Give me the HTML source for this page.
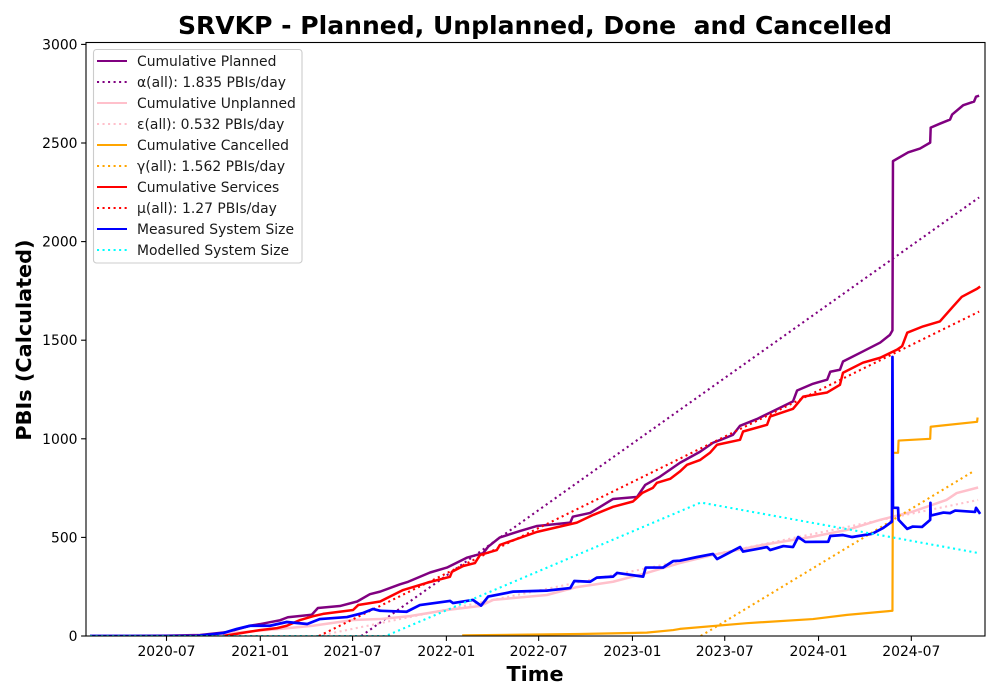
<!DOCTYPE html>
<html lang="en">
<head>
<meta charset="utf-8">
<title>SRVKP - Planned, Unplanned, Done and Cancelled</title>
<style>
html,body{margin:0;padding:0;background:#fff;}
svg{display:block;}
text{font-family:"DejaVu Sans","Liberation Sans",sans-serif;fill:#000;}
.tick{font-size:13.9px;}
.legend-text{font-size:13.9px;fill:#1a1a1a;}
</style>
</head>
<body>
<svg id="chart" width="1000" height="700" viewBox="0 0 1000 700" xmlns="http://www.w3.org/2000/svg">
  <rect width="1000" height="700" fill="#fff"/>
  <defs><clipPath id="plot-clip"><rect x="86" y="42.5" width="899" height="593.5"/></clipPath></defs>
  <text x="535" y="34" text-anchor="middle" style="font-size:25.05px;font-weight:bold;white-space:pre" xml:space="preserve">SRVKP - Planned, Unplanned, Done  and Cancelled</text>
  <text x="535" y="681" text-anchor="middle" style="font-size:20.8px;font-weight:bold">Time</text>
  <text transform="translate(31,340) rotate(-90)" text-anchor="middle" style="font-size:20.8px;font-weight:bold">PBIs (Calculated)</text>
  <g id="series-layer" clip-path="url(#plot-clip)"></g>
  <g id="axis-layer"></g>
  <rect x="86" y="42.5" width="899" height="593.5" fill="none" stroke="#000" stroke-width="1.1"/>
  <g>
    <rect x="93.5" y="49.5" width="208.5" height="213.5" rx="3" ry="3" fill="#fff" fill-opacity="0.8" stroke="#ccc" stroke-width="1.1"/>
    <g><line x1="97" x2="127" y1="61" y2="61" stroke="purple" stroke-width="2.08"/><text class="legend-text" x="137" y="66">Cumulative Planned</text></g>
    <g><line x1="97" x2="127" y1="82" y2="82" stroke="purple" stroke-width="2.08" stroke-dasharray="2.08 3.44"/><text class="legend-text" x="137" y="87">α(all): 1.835 PBIs/day</text></g>
    <g><line x1="97" x2="127" y1="103" y2="103" stroke="pink" stroke-width="2.08"/><text class="legend-text" x="137" y="108">Cumulative Unplanned</text></g>
    <g><line x1="97" x2="127" y1="124" y2="124" stroke="pink" stroke-width="2.08" stroke-dasharray="2.08 3.44"/><text class="legend-text" x="137" y="129">ε(all): 0.532 PBIs/day</text></g>
    <g><line x1="97" x2="127" y1="145" y2="145" stroke="orange" stroke-width="2.08"/><text class="legend-text" x="137" y="150">Cumulative Cancelled</text></g>
    <g><line x1="97" x2="127" y1="166" y2="166" stroke="orange" stroke-width="2.08" stroke-dasharray="2.08 3.44"/><text class="legend-text" x="137" y="171">γ(all): 1.562 PBIs/day</text></g>
    <g><line x1="97" x2="127" y1="187" y2="187" stroke="red" stroke-width="2.08"/><text class="legend-text" x="137" y="192">Cumulative Services</text></g>
    <g><line x1="97" x2="127" y1="208" y2="208" stroke="red" stroke-width="2.08" stroke-dasharray="2.08 3.44"/><text class="legend-text" x="137" y="213">μ(all): 1.27 PBIs/day</text></g>
    <g><line x1="97" x2="127" y1="229" y2="229" stroke="blue" stroke-width="2.08"/><text class="legend-text" x="137" y="234">Measured System Size</text></g>
    <g><line x1="97" x2="127" y1="250" y2="250" stroke="cyan" stroke-width="2.08" stroke-dasharray="2.08 3.44"/><text class="legend-text" x="137" y="255">Modelled System Size</text></g>
  </g>
</svg>
<script>
// Tick labels
const xTickLabels = ['2020-07','2021-01','2021-07','2022-01','2022-07','2023-01','2023-07','2024-01','2024-07'];
const yTickValues = [0,500,1000,1500,2000,2500,3000];

// Series: days since 2020-07-01, and values in PBIs
const plannedDays = [-150,0,66,119,164,183,203,223,238,285,297,340,374,399,419,458,474,517,550,589,621,631,654,693,727,792,797,831,876,923,939,968,1007,1047,1072,1092,1111,1125,1158,1184,1229,1237,1268,1296,1302,1321,1327,1366,1400,1419,1424,1425,1455,1478,1498,1499,1517,1537,1541,1563,1584,1588,1594];
const plannedValues = [0,2,5,20,52,60,70,80,95,108,142,152,175,212,225,262,275,322,347,397,420,453,500,532,558,575,605,624,695,705,766,808,878,935,980,1000,1020,1066,1100,1133,1190,1245,1279,1300,1340,1350,1392,1443,1488,1527,1550,2408,2453,2472,2502,2578,2598,2619,2644,2692,2710,2735,2740];

const alphaDays = [382,1594];
const alphaValues = [0,2224];

const unplannedDays = [-150,60,138,223,287,366,419,477,550,615,641,746,805,876,942,1007,1072,1170,1268,1335,1400,1464,1530,1550,1592];
const unplannedValues = [0,1,17,36,52,81,86,101,132,152,183,208,248,275,320,370,411,462,504,538,589,631,690,725,753];

const epsilonDays = [297,1592];
const epsilonValues = [0,690];

const cancelledDays = [580,811,942,994,1007,1138,1268,1335,1424,1425,1435,1436,1498,1499,1524,1590,1591];
const cancelledValues = [3,10,17,30,36,65,86,107,128,929,929,991,1000,1061,1068,1086,1108];

const gammaDays = [1048,1582];
const gammaValues = [0,834];

const servicesDays = [111,164,183,217,236,262,287,307,366,376,419,464,511,556,560,582,605,615,648,654,727,805,837,876,915,933,954,962,988,1007,1021,1047,1066,1080,1125,1131,1178,1184,1229,1249,1296,1321,1327,1366,1400,1433,1443,1453,1484,1517,1543,1560,1590,1596];
const servicesValues = [0,22,30,40,52,81,100,112,132,157,175,233,270,300,326,355,370,411,436,462,528,575,614,655,682,725,751,777,797,834,868,893,929,970,995,1037,1071,1113,1152,1214,1235,1274,1335,1386,1411,1452,1470,1538,1570,1595,1671,1720,1761,1772];

const muDays = [299,1594];
const muValues = [0,1645];

const measuredDays = [-150,60,111,138,164,203,236,276,301,354,386,405,419,471,497,556,562,601,617,631,680,746,792,800,831,844,876,884,935,940,974,994,1007,1040,1072,1080,1125,1131,1178,1184,1210,1229,1239,1253,1298,1302,1327,1345,1384,1406,1423,1424,1425,1435,1436,1453,1464,1482,1498,1498.5,1499,1524,1537,1547,1586,1588,1596];
const measuredValues = [0,1,15,36,52,52,71,61,86,96,117,137,128,123,157,178,167,183,154,200,225,230,243,279,275,296,301,320,301,347,347,380,382,400,416,390,451,428,451,436,456,451,502,477,478,507,512,502,518,548,580,1415,650,650,589,543,555,553,589,675,611,626,623,636,629,650,619];

const modelledDays = [-150,430,1048,1594];
const modelledValues = [0,0,677,420];

// Axis functions
const svgNS = 'http://www.w3.org/2000/svg';
const dayZero = Date.UTC(2020, 6, 1);
function dayOf(label) {
  const parts = label.split('-');
  return (Date.UTC(+parts[0], +parts[1] - 1, 1) - dayZero) / 86400000;
}
function xScale(day) { return 166.5 + day * 0.5098; }
function yScale(value) { return 636 - value * 0.1972; }

const seriesLayer = document.getElementById('series-layer');
const axisLayer = document.getElementById('axis-layer');

function drawSeries(name, days, values, color, dotted, width) {
  const path = document.createElementNS(svgNS, 'path');
  const d = days.map(function (day, i) {
    return (i ? 'L' : 'M') + xScale(day).toFixed(2) + ' ' + yScale(values[i]).toFixed(2);
  }).join('');
  path.setAttribute('d', d);
  path.setAttribute('fill', 'none');
  path.setAttribute('stroke', color);
  path.setAttribute('stroke-width', width);
  path.setAttribute('stroke-linejoin', 'round');
  if (dotted) path.setAttribute('stroke-dasharray', '2.08 3.44');
  
  
  seriesLayer.appendChild(path);
}

drawSeries('cumulative-planned-line', plannedDays, plannedValues, 'purple', false, 2.5);
drawSeries('alpha-trend-line', alphaDays, alphaValues, 'purple', true, 2.08);
drawSeries('cumulative-unplanned-line', unplannedDays, unplannedValues, 'pink', false, 2.5);
drawSeries('epsilon-trend-line', epsilonDays, epsilonValues, 'pink', true, 2.08);
drawSeries('cumulative-cancelled-line', cancelledDays, cancelledValues, 'orange', false, 2.2);
drawSeries('gamma-trend-line', gammaDays, gammaValues, 'orange', true, 2.08);
drawSeries('cumulative-services-line', servicesDays, servicesValues, 'red', false, 2.5);
drawSeries('mu-trend-line', muDays, muValues, 'red', true, 2.08);
drawSeries('measured-system-size-line', measuredDays, measuredValues, 'blue', false, 2.7);
drawSeries('modelled-system-size-line', modelledDays, modelledValues, 'cyan', true, 2.08);

function drawLine(name, x1, y1, x2, y2) {
  const line = document.createElementNS(svgNS, 'line');
  line.setAttribute('x1', x1);
  line.setAttribute('y1', y1);
  line.setAttribute('x2', x2);
  line.setAttribute('y2', y2);
  line.setAttribute('stroke', '#000');
  line.setAttribute('stroke-width', '1.1');
  
  
  axisLayer.appendChild(line);
}

function drawLabel(name, x, y, anchor, content) {
  const label = document.createElementNS(svgNS, 'text');
  label.setAttribute('x', x);
  label.setAttribute('y', y);
  label.setAttribute('text-anchor', anchor);
  label.setAttribute('class', 'tick');
  
  
  label.textContent = content;
  axisLayer.appendChild(label);
}

xTickLabels.forEach(function (lab) {
  const x = xScale(dayOf(lab));
  drawLine('x-tick-mark', x, 636, x, 640.9);
  drawLabel('x-tick-label', x, 656, 'middle', lab);
});

yTickValues.forEach(function (value) {
  const y = yScale(value);
  drawLine('y-tick-mark', 86, y, 81.1, y);
  drawLabel('y-tick-label', 77.5, y + 5, 'end', String(value));
});
</script>
</body>
</html>
